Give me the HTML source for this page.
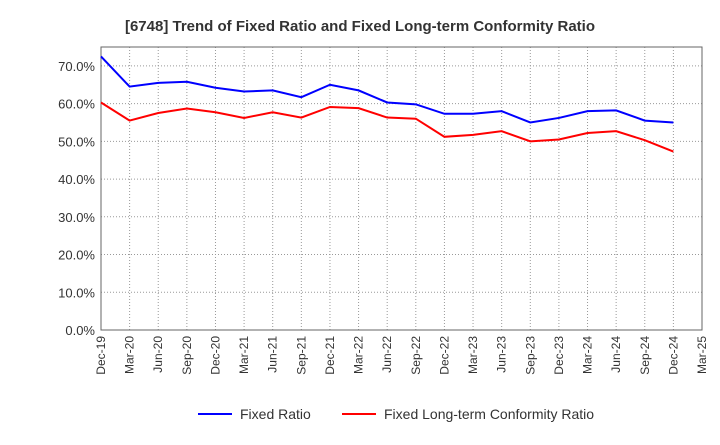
<!DOCTYPE html>
<html><head><meta charset="utf-8"><style>
body{margin:0;background:#fff;font-family:"Liberation Sans",sans-serif}
</style></head><body>
<svg id="c" width="720" height="440" xmlns="http://www.w3.org/2000/svg">
<text x="360" y="31" text-anchor="middle" font-size="15" font-weight="bold" fill="#333">[6748]  Trend of Fixed Ratio and Fixed Long-term Conformity Ratio</text>
<g id="grid"></g><g id="axes"></g><g id="series"></g>
<g>
<line x1="198" y1="414" x2="232" y2="414" stroke="#0000ff" stroke-width="2"/>
<text x="240" y="419" font-size="14" fill="#333">Fixed Ratio</text>
<line x1="342" y1="414" x2="376" y2="414" stroke="#ff0000" stroke-width="2"/>
<text x="384" y="419" font-size="14" fill="#333">Fixed Long-term Conformity Ratio</text>
</g>
</svg>
<script>
const categories=["Dec-19","Mar-20","Jun-20","Sep-20","Dec-20","Mar-21","Jun-21","Sep-21","Dec-21","Mar-22","Jun-22","Sep-22","Dec-22","Mar-23","Jun-23","Sep-23","Dec-23","Mar-24","Jun-24","Sep-24","Dec-24","Mar-25"];
const fixedRatio=[72.5,64.5,65.5,65.8,64.2,63.2,63.5,61.7,65.0,63.5,60.3,59.8,57.3,57.3,58.0,55.0,56.2,58.0,58.2,55.5,55.0];
const conformityRatio=[60.3,55.5,57.5,58.7,57.7,56.2,57.7,56.3,59.1,58.8,56.3,56.0,51.2,51.7,52.7,50.0,50.5,52.2,52.7,50.3,47.3];
const yTicks=[0,10,20,30,40,50,60,70];
const NS="http://www.w3.org/2000/svg";
const L=101,R=702,T=47,B=330,YMAX=75;
const x=i=>L+i*(R-L)/(categories.length-1);
const y=v=>B-v/YMAX*(B-T);
function mk(tag,attrs,parent,txt){const e=document.createElementNS(NS,tag);for(const k in attrs)e.setAttribute(k,attrs[k]);if(txt!=null)e.textContent=txt;document.getElementById(parent).appendChild(e);return e;}
yTicks.forEach(v=>{
 const g=mk("line",{x1:L,x2:R,y1:y(v),y2:y(v),stroke:"#999","stroke-dasharray":"1,2"},"grid");
 
 
 const t=mk("text",{x:L-6,y:y(v)+5,"text-anchor":"end","font-size":"13",fill:"#333"},"axes",v.toFixed(1)+"%");
 
 
});
categories.forEach((c,i)=>{
 const g=mk("line",{x1:x(i),x2:x(i),y1:T,y2:B,stroke:"#999","stroke-dasharray":"1,2"},"grid");
 
 
 const t=mk("text",{transform:`translate(${x(i)+4},${B+6}) rotate(-90)`,"text-anchor":"end","font-size":"12",fill:"#333"},"axes",c);
 
 
});
const fr=mk("rect",{x:L,y:T,width:R-L,height:B-T,fill:"none",stroke:"#666"},"axes");


[[fixedRatio,"#0000ff","fixed-ratio-line"],[conformityRatio,"#ff0000","conformity-ratio-line"]].forEach(([d,col,n])=>{
 const p=mk("polyline",{points:d.map((v,i)=>x(i)+","+y(v)).join(" "),fill:"none",stroke:col,"stroke-width":"2"},"series");
 
 
});
</script>
</body></html>
